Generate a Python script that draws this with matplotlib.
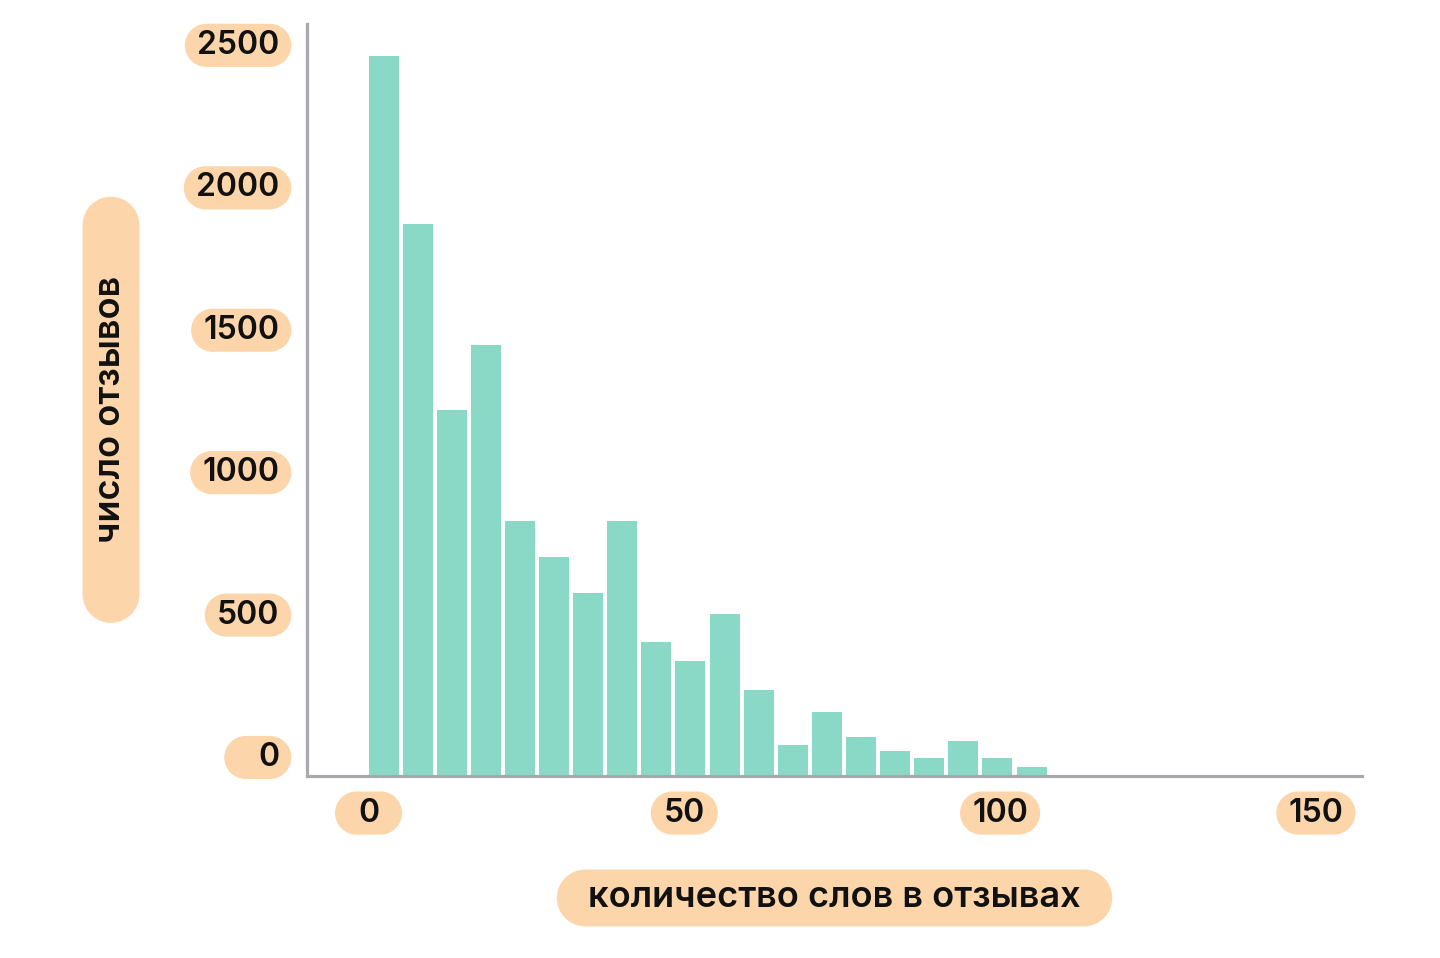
import matplotlib
matplotlib.use('Agg')
import numpy as np
import matplotlib.pyplot as plt
import matplotlib.transforms as mtransforms
from matplotlib.path import Path

# ---- data ----
counts = [2527, 1938, 1285, 1513, 895, 769, 642, 895, 470, 404,
          569, 302, 109, 225, 137, 88, 63, 123, 63, 32]
bin_edges = [0.0, 5.4, 10.8, 16.2, 21.6, 27.0, 32.4, 37.8, 43.2, 48.6, 54.0,
             59.4, 64.8, 70.2, 75.6, 81.0, 86.4, 91.8, 97.2, 102.6, 108.0]
x_ticks = [0, 50, 100, 150]
y_ticks = [0, 500, 1000, 1500, 2000, 2500]
x_label = 'количество слов в отзывах'
y_label = 'число отзывов'

BAR = '#8AD9C7'
PEACH = '#FDD5AB'
AXIS = '#A9A9AD'
TXT = '#111111'
FONT = ['Inter', 'DejaVu Sans']

plt.rcParams['font.family'] = FONT


def pill_path(x0, y0, w, h):
    r = min(w, h) / 2
    cy = y0 + h / 2
    right = Path.arc(-90, 90)
    left = Path.arc(90, 270)
    rv = right.vertices * r + [x0 + w - r, cy]
    lv = left.vertices * r + [x0 + r, cy]
    verts = np.concatenate([[[x0 + r, y0]], rv, lv, [[x0 + r, y0]]])
    codes = ([Path.MOVETO, Path.LINETO] + list(right.codes[1:]) +
             [Path.LINETO] + list(left.codes[1:]) + [Path.CLOSEPOLY])
    return Path(verts, codes)


def pill(padx, pady, minw=0.0, grow='center'):
    """Pill-shaped box with separate horizontal/vertical pads (in em)."""
    def _box(x0, y0, width, height, mutation_size):
        px = padx * mutation_size
        py = pady * mutation_size
        w0 = width + 2 * px
        w = max(w0, minw * mutation_size)
        h = height + 2 * py
        cy = y0 + height / 2
        if grow == 'left':
            right_edge = x0 + width + px
            left = right_edge - w
        else:
            left = x0 + width / 2 - w / 2
        return pill_path(left, cy - h / 2, w, h)
    return _box


fig = plt.figure(figsize=(14.4, 9.58), dpi=100)
ax = fig.add_axes([307 / 1440, 1 - 776 / 958, (1362 - 307) / 1440, (776 - 24) / 958])

lefts = bin_edges[:-1]
widths = [b - a for a, b in zip(bin_edges[:-1], bin_edges[1:])]
ax.bar(lefts, counts, width=[w * 0.88 for w in widths], align='edge',
       color=BAR, edgecolor='none', zorder=2)

ax.set_xlim(-9.74, 157.3)
ax.set_ylim(0, 2640)

for s in ['top', 'right']:
    ax.spines[s].set_visible(False)
for s in ['left', 'bottom']:
    ax.spines[s].set_color(AXIS)
    ax.spines[s].set_linewidth(2.3)
    ax.spines[s].set_zorder(3)

ax.set_xticks(x_ticks)
ax.set_xticklabels([str(v) for v in x_ticks])
ax.set_yticks(y_ticks)
ax.set_yticklabels([str(v) for v in y_ticks])
ax.tick_params(axis='both', length=0, labelsize=23)
ax.tick_params(axis='x', pad=15.5)
ax.tick_params(axis='y', pad=20)

for lab in ax.get_xticklabels():
    lab.set_fontweight('semibold')
    lab.set_color(TXT)
    lab.set_bbox(dict(boxstyle=pill(0.38, 0.19, 2.1), fc=PEACH, ec='none'))
for lab in ax.get_yticklabels():
    lab.set_fontweight('semibold')
    lab.set_color(TXT)
    lab.set_bbox(dict(boxstyle=pill(0.38, 0.19, 2.1, grow='left'),
                      fc=PEACH, ec='none'))

shift = mtransforms.ScaledTranslation(0, 0.22, fig.dpi_scale_trans)
for lab in ax.get_yticklabels():
    lab.set_transform(lab.get_transform() + shift)

ax.set_xlabel(x_label, fontsize=26, fontweight='semibold', color=TXT)
ax.xaxis.set_label_coords(0.5, -0.1622)
ax.xaxis.label.set_va('center')
ax.xaxis.label.set_bbox(dict(boxstyle=pill(0.87, 0.33), fc=PEACH, ec='none'))

ax.set_ylabel(y_label, fontsize=26, fontweight='semibold', color=TXT)
ax.yaxis.set_label_coords(-0.1858, 0.487)
ax.yaxis.label.set_va('center')
ax.yaxis.label.set_ha('center')
ax.yaxis.label.set_bbox(dict(boxstyle=pill(2.2, 0.33), fc=PEACH, ec='none'))

fig.savefig('out.png', dpi=100, facecolor='white')
